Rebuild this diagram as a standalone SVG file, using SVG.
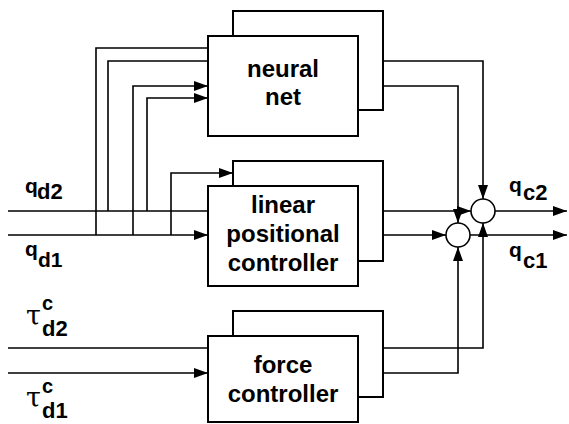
<svg xmlns="http://www.w3.org/2000/svg" width="569" height="424" viewBox="0 0 569 424">
<style>
.box{fill:#fff;stroke:#000;stroke-width:2}
.ln{fill:none;stroke:#000;stroke-width:1.6}
.lbl{font-family:"Liberation Sans",Arial,sans-serif;font-weight:bold;font-size:24px;text-anchor:middle;fill:#000}
.v{font-family:"Liberation Sans",Arial,sans-serif;font-weight:bold;font-size:21px;fill:#000}
.s{font-family:"Liberation Sans",Arial,sans-serif;font-weight:bold;font-size:22px;fill:#000}
.c{font-family:"Liberation Sans",Arial,sans-serif;font-weight:bold;font-size:20px;fill:#000}
.t{font-family:"DejaVu Serif","Liberation Serif",serif;font-size:27px;fill:#000}
.sum{fill:#fff;stroke:#000;stroke-width:1.6}
</style>
<defs>
<marker id="ah" markerUnits="userSpaceOnUse" markerWidth="14" markerHeight="10" refX="14" refY="5" orient="auto">
<path d="M0,0 L14,5 L0,10 z" fill="#000"/>
</marker>
</defs>
<g id="connectors">
<path class="ln" d="M8,211 H208"/>
<path class="ln" d="M8,235 H208" marker-end="url(#ah)"/>
<path class="ln" d="M8,348 H208"/>
<path class="ln" d="M8,373 H208" marker-end="url(#ah)"/>
<path class="ln" d="M96,235 V48 H208"/>
<path class="ln" d="M108,211 V61 H208"/>
<path class="ln" d="M133,235 V86 H208" marker-end="url(#ah)"/>
<path class="ln" d="M147,211 V98 H208" marker-end="url(#ah)"/>
<path class="ln" d="M171,235 V173 H233" marker-end="url(#ah)"/>
<path class="ln" d="M383,61 H483 V199" marker-end="url(#ah)"/>
<path class="ln" d="M358,86 H458 V223" marker-end="url(#ah)"/>
<path class="ln" d="M383,211 H471" marker-end="url(#ah)"/>
<path class="ln" d="M358,235 H446" marker-end="url(#ah)"/>
<path class="ln" d="M383,348 H483 V223" marker-end="url(#ah)"/>
<path class="ln" d="M358,373 H458 V247" marker-end="url(#ah)"/>
<path class="ln" d="M495,211 H567" marker-end="url(#ah)"/>
<path class="ln" d="M470,235 H567" marker-end="url(#ah)"/>
</g>
<g id="neural-net">
<rect class="box" x="233" y="11" width="150" height="99"/>
<rect class="box" x="208" y="36" width="150" height="100"/>
<text class="lbl" x="283" y="77">neural</text>
<text class="lbl" x="283" y="105">net</text>
</g>
<g id="linear-controller">
<rect class="box" x="233" y="161" width="150" height="100"/>
<rect class="box" x="208" y="186" width="150" height="100"/>
<text class="lbl" x="283" y="213">linear</text>
<text class="lbl" x="283" y="242">positional</text>
<text class="lbl" x="283" y="271">controller</text>
</g>
<g id="force-controller">
<rect class="box" x="233" y="311" width="150" height="86"/>
<rect class="box" x="208" y="336" width="150" height="86"/>
<text class="lbl" x="283" y="373">force</text>
<text class="lbl" x="283" y="402">controller</text>
</g>
<g id="sum-qc2"><circle class="sum" cx="483" cy="211" r="12"/></g>
<g id="sum-qc1"><circle class="sum" cx="458" cy="235" r="12"/></g>
<g id="labels">
<text class="v" x="25" y="193">q</text>
<text class="s" x="37" y="199">d2</text>
<text class="v" x="25" y="256">q</text>
<text class="v" x="38" y="267">d1</text>
<text class="t" x="26" y="325">τ</text>
<text class="c" x="42" y="310">c</text>
<text class="s" x="42" y="336">d2</text>
<text class="t" x="26" y="407">τ</text>
<text class="c" x="42" y="393">c</text>
<text class="s" x="42" y="418">d1</text>
<text class="v" x="509" y="192">q</text>
<text class="s" x="523" y="200">c2</text>
<text class="v" x="509" y="257">q</text>
<text class="s" x="523" y="268">c1</text>
</g>
</svg>
